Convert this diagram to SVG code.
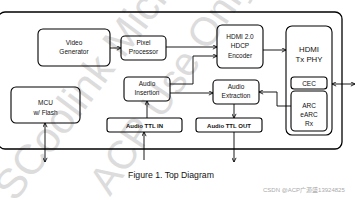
<svg xmlns="http://www.w3.org/2000/svg" width="356" height="200" viewBox="0 0 356 200">
<style>
.box{fill:none;stroke:#000;stroke-width:1.1}
.ln{fill:none;stroke:#000;stroke-width:0.9}
.t{font-family:"Liberation Sans",Arial,sans-serif;font-size:6.5px;fill:#111;text-anchor:middle}
.tb{font-family:"Liberation Sans",Arial,sans-serif;font-size:6px;fill:#111;text-anchor:middle;font-weight:bold}
.big{font-family:"Liberation Sans",Arial,sans-serif;font-size:7.8px;fill:#111;text-anchor:middle}
.wm{font-family:"Liberation Sans",Arial,sans-serif;fill:#dcdcdc}
</style>
<defs>
<marker id="ah" viewBox="0 0 6 6" refX="5.5" refY="3" markerWidth="5" markerHeight="5" orient="auto-start-reverse" markerUnits="userSpaceOnUse">
<path d="M0.5,0.5 L5.5,3 L0.5,5.5" fill="none" stroke="#000" stroke-width="1"/>
</marker>
</defs>
<rect width="356" height="200" fill="#fff"/>
<text class="wm" font-size="42" transform="translate(15,203) rotate(-53)">SCoolink Micro</text>
<text class="wm" font-size="40" transform="translate(110,197) rotate(-56)">ACP Use Only</text>
<rect id="frame" x="-2" y="12" width="344" height="137" rx="7" fill="none" stroke="#000" stroke-width="1.3"/>
<g id="video-generator"><rect class="box" x="38" y="29" width="72" height="37" rx="5"/><text class="t" x="74" y="45">Video</text><text class="t" x="74" y="54">Generator</text></g>
<g id="pixel-processor"><rect class="box" x="121" y="36" width="45" height="24" rx="4"/><text class="t" x="143.5" y="45">Pixel</text><text class="t" x="143.5" y="54">Processor</text></g>
<g id="hdcp-encoder"><rect class="box" x="217" y="25" width="46" height="43" rx="5"/><text class="t" x="240" y="39">HDMI 2.0</text><text class="t" x="240" y="48">HDCP</text><text class="t" x="240" y="58">Encoder</text></g>
<g id="hdmi-tx-phy"><rect class="box" x="286" y="26" width="46" height="109" rx="6"/><text class="big" x="309" y="52">HDMI</text><text class="big" x="309" y="62">Tx PHY</text></g>
<g id="cec"><rect class="box" x="291" y="77" width="36" height="12" rx="3"/><text class="t" x="309" y="85.5">CEC</text></g>
<g id="arc-earc-rx"><rect class="box" x="291" y="91" width="36" height="40" rx="4"/><text class="t" x="309" y="108">ARC</text><text class="t" x="309" y="117">eARC</text><text class="t" x="309" y="126">Rx</text></g>
<g id="audio-insertion"><rect class="box" x="124" y="77" width="46" height="24" rx="4"/><text class="t" x="147" y="86">Audio</text><text class="t" x="147" y="95">Insertion</text></g>
<g id="audio-extraction"><rect class="box" x="213" y="80" width="46" height="24" rx="4"/><text class="t" x="236" y="89">Audio</text><text class="t" x="236" y="98">Extraction</text></g>
<g id="mcu"><rect class="box" x="11" y="87" width="69" height="36" rx="5"/><text class="t" x="45.5" y="105">MCU</text><text class="t" x="45.5" y="115">w/ Flash</text></g>
<g id="audio-ttl-in"><rect class="box" x="107" y="118" width="75" height="14" rx="2.5"/><text class="tb" x="144.5" y="127.5">Audio TTL IN</text></g>
<g id="audio-ttl-out"><rect class="box" x="196" y="118" width="66" height="14" rx="2.5"/><text class="tb" x="229" y="127.5">Audio TTL OUT</text></g>
<g id="connectors">
<path class="ln" d="M110,48 H121" marker-end="url(#ah)"/>
<path class="ln" d="M166,47 H217" marker-end="url(#ah)"/>
<path class="ln" d="M170,84 H193 V56 H217" marker-end="url(#ah)"/>
<path class="ln" d="M170,93 H213" marker-end="url(#ah)"/>
<path class="ln" d="M263,50 H286" marker-end="url(#ah)"/>
<path class="ln" d="M291,106 H277 V92 H259" marker-end="url(#ah)"/>
<path class="ln" d="M332,84 H355" marker-start="url(#ah)" marker-end="url(#ah)"/>
<path class="ln" d="M147,118 V101" marker-end="url(#ah)"/>
<path class="ln" d="M144,160 V132" marker-end="url(#ah)"/>
<path class="ln" d="M45,123 V162" marker-start="url(#ah)" marker-end="url(#ah)"/>
<path class="ln" d="M234,104 V118" marker-end="url(#ah)"/>
<path class="ln" d="M234,132 V162" marker-end="url(#ah)"/>
</g>
<text x="171" y="178" font-family="'Liberation Sans',Arial,sans-serif" font-size="8.7" fill="#111" text-anchor="middle">Figure 1. Top Diagram</text>
<text x="263" y="192" font-family="'Liberation Sans','Noto Sans CJK SC',sans-serif" font-size="6" fill="#aaa">CSDN @ACP广源盛13924825</text>
</svg>
